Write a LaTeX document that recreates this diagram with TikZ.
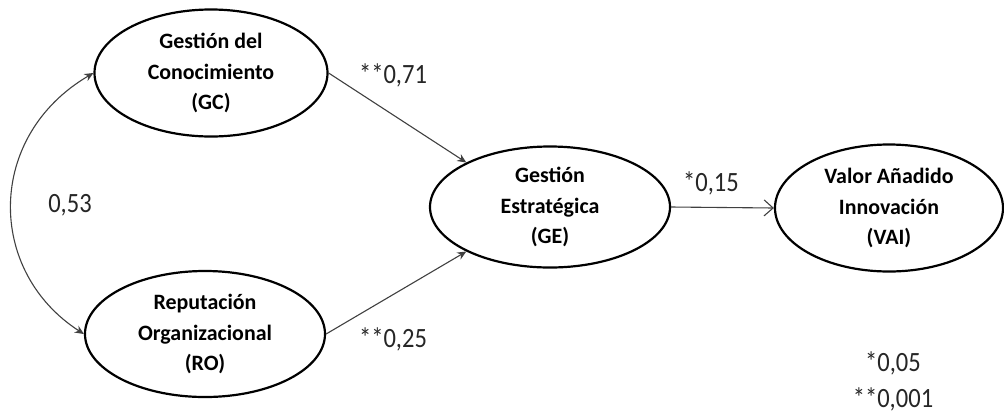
\documentclass[tikz,border=0pt]{standalone}
\usepackage{fontspec}
\setmainfont{Carlito}
\newfontfamily\boxfont{Carlito}
\newfontfamily\numfont{Carlito}[FakeStretch=0.88]
\usetikzlibrary{shapes.geometric,arrows.meta}

\begin{document}
\begin{tikzpicture}[x=1bp,y=-1bp,
  construct/.style={ellipse, draw=black, line width=2.2bp, inner sep=0pt,
    align=center, text=black,
    font=\boxfont\bfseries\fontsize{22}{31}\selectfont},
  coef/.style={font=\numfont\fontsize{28}{36}\selectfont, text=black!85,
    inner sep=0pt, align=center},
  link/.style={draw=black!75, line width=1.1bp},
  solid tip/.style={-{Stealth[length=9bp,width=8bp]}},
  open tip/.style={-{Straight Barb[length=9bp,width=16bp,line width=1.1bp]}}
]
\useasboundingbox (0,0) rectangle (1004,417);

% latent constructs
\node[construct, minimum width=233bp, minimum height=127bp] (GC) at (211,73)
  {Gestión del\\Conocimiento\\(GC)};
\node[construct, minimum width=240bp, minimum height=126bp] (RO) at (205,334)
  {Reputación\\Organizacional\\(RO)};
\node[construct, minimum width=240bp, minimum height=121bp] (GE) at (550,207)
  {Gestión\\Estratégica\\(GE)};
\node[construct, minimum width=228bp, minimum height=127bp] (VAI) at (889,208)
  {Valor Añadido\\Innovación\\(VAI)};

% structural paths
\draw[link, solid tip] (GC.east) -- (GE.152);
\draw[link, solid tip] (RO.east) -- (GE.208);
\draw[link, open tip] (GE.east) -- (VAI.west);

% correlation between the exogenous constructs
\draw[link, {Stealth[length=9bp,width=8bp]}-{Stealth[length=9bp,width=8bp]}]
  (RO.west) .. controls (-14,271) and (-14,136) .. (GC.west);

% path coefficients
\node[coef] (r53) at (70,205) {0,53};
\node[coef] (c71) at (393,75) {**0,71};
\node[coef] (c25) at (393,339) {**0,25};
\node[coef] (c15) at (711,183) {*0,15};
\node[coef] (sig) at (893,381) {*0,05\\**0,001};
\end{tikzpicture}
\end{document}
